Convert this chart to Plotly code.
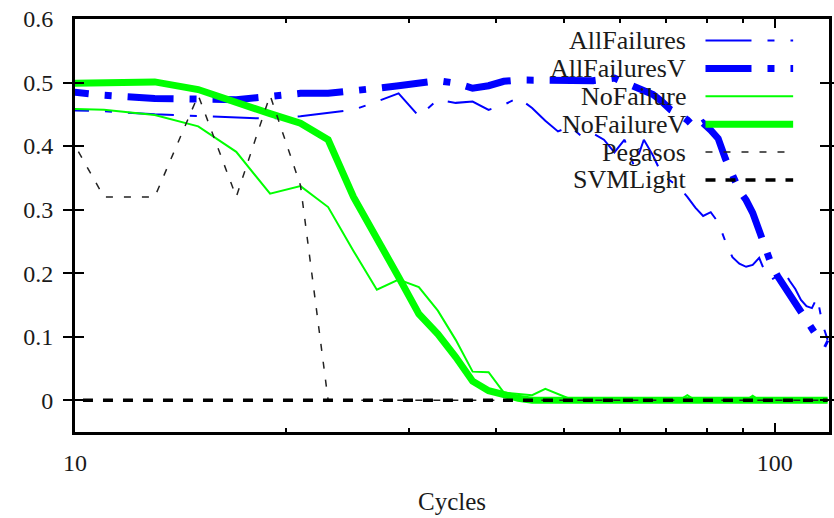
import plotly.graph_objects as go

# Sampled cycle counts (odd values) and error rates per method
cycles = [9, 11, 13, 15, 17, 19, 21, 23, 25, 27, 29, 31, 33, 35, 37, 39, 41, 43,
          45, 47, 49, 51, 53, 55, 57, 59, 61, 63, 65, 67, 69, 71, 73, 75, 77, 79,
          81, 83, 85, 87, 89, 91, 93, 95, 97, 99, 101, 103, 105, 107, 109, 111,
          113, 115, 117, 119]

all_failures = [0.457, 0.455, 0.45, 0.447, 0.445, 0.443, 0.447, 0.452, 0.457, 0.47,
                0.483, 0.447, 0.473, 0.468, 0.47, 0.457, 0.465, 0.476, 0.46, 0.44,
                0.423, 0.431, 0.415, 0.42, 0.41, 0.39, 0.41, 0.367, 0.41, 0.385,
                0.355, 0.345, 0.335, 0.32, 0.303, 0.29, 0.296, 0.28, 0.25, 0.225,
                0.215, 0.21, 0.213, 0.224, 0.2, 0.19, 0.196, 0.204, 0.188, 0.175,
                0.158, 0.148, 0.145, 0.162, 0.12, 0.095]

all_failures_v = [0.49, 0.48, 0.475, 0.473, 0.473, 0.478, 0.483, 0.483, 0.486, 0.491,
                  0.495, 0.498, 0.503, 0.499, 0.491, 0.495, 0.502, 0.504, 0.504, 0.504,
                  0.504, 0.503, 0.502, 0.503, 0.505, 0.507, 0.5, 0.494, 0.487, 0.481,
                  0.47, 0.457, 0.45, 0.441, 0.428, 0.436, 0.425, 0.412, 0.38, 0.355,
                  0.33, 0.315, 0.295, 0.267, 0.24, 0.212, 0.195, 0.18, 0.167, 0.152,
                  0.138, 0.122, 0.11, 0.1, 0.092, 0.088]

no_failure = [0.46, 0.457, 0.449, 0.431, 0.391, 0.325, 0.337, 0.304, 0.235, 0.174,
              0.19, 0.178, 0.141, 0.095, 0.045, 0.044, 0.012, 0.01, 0.008, 0.018,
              0.01, 0.002, 0, 0, 0, 0, 0, 0, 0, 0,
              0, 0, 0, 0.008, 0, 0, 0, 0, 0, 0,
              0, 0, 0.007, 0, 0, 0, 0, 0, 0, 0,
              0, 0, 0, 0, 0, 0]

no_failure_v = [0.498, 0.5, 0.501, 0.489, 0.468, 0.451, 0.436, 0.41, 0.32, 0.257,
                0.194, 0.136, 0.104, 0.068, 0.03, 0.015, 0.008, 0.003, 0, 0,
                0, 0, 0, 0, 0, 0, 0, 0, 0, 0,
                0, 0, 0, 0, 0, 0, 0, 0, 0, 0,
                0, 0, 0, 0, 0, 0, 0, 0, 0, 0,
                0, 0, 0, 0, 0, 0]

pegasos = [0.49, 0.32, 0.32, 0.48, 0.32, 0.48, 0.338, 0] + [0] * 48

svmlight = [0] * 56

y_ticks = [0, 0.1, 0.2, 0.3, 0.4, 0.5, 0.6]
y_tick_text = ["0", "0.1", "0.2", "0.3", "0.4", "0.5", "0.6"]
x_ticks = [10, 100]
x_minor = [20, 30, 40, 50, 60, 70, 80, 90]

BLUE = "#0000ff"
GREEN = "#00ff00"
BLACK = "#000000"
DASHDOT = "46px,16px,7px,16px"

# name, values, colour, width, dash, x-axis
series = [
    ("AllFailures", all_failures, BLUE, 2, DASHDOT, "x"),
    ("AllFailuresV", all_failures_v, BLUE, 7, DASHDOT, "x"),
    ("NoFailure", no_failure, GREEN, 2, "solid", "x"),
    ("NoFailureV", no_failure_v, GREEN, 7, "solid", "x"),
    ("Pegasos", pegasos, "#222222", 1.5, "7px,11px", "x2"),
    ("SVMLight", svmlight, BLACK, 3.5, "10px,10px", "x2"),
]

FONT = "Liberation Serif"
TEXT = "#1a1a1a"
X_RANGE = [1, 2.0775]

fig = go.Figure()
for name, vals, color, width, dash, xa in series:
    fig.add_trace(go.Scatter(
        x=cycles, y=vals, name=name, mode="lines", xaxis=xa,
        line=dict(color=color, width=width, dash=dash),
        showlegend=False,
    ))

# Legend drawn inside the plot: right-aligned labels, line samples to the right
L, R, T, B = 75, 832, 19, 432
def px(x):
    return (x - L) / (R - L)
def py(y):
    return (B - y) / (B - T)

row0, step = 40.5, 27.9
shapes = []
annotations = []
for i, (name, vals, color, width, dash, xa) in enumerate(series):
    yc = row0 + i * step
    annotations.append(dict(
        x=px(689), y=py(yc), xref="paper", yref="paper", text=name,
        showarrow=False, xanchor="right", yanchor="middle", borderpad=0,
        font=dict(family=FONT, size=26, color=TEXT),
    ))
    shapes.append(dict(
        type="line", xref="paper", yref="paper",
        x0=px(708), x1=px(796), y0=py(yc), y1=py(yc),
        line=dict(color=color, width=width, dash=dash),
    ))

fig.update_layout(
    width=834, height=518,
    margin=dict(l=L, r=834 - R, t=T, b=518 - B),
    paper_bgcolor="white", plot_bgcolor="white",
    font=dict(family=FONT, size=24, color=TEXT),
    shapes=shapes, annotations=annotations,
    xaxis=dict(
        type="log", range=X_RANGE,
        tickvals=x_ticks, ticktext=[str(v) for v in x_ticks],
        ticks="inside", ticklen=9, tickwidth=2, tickcolor=BLACK,
        showline=True, linewidth=3, linecolor=BLACK, mirror="allticks",
        showgrid=False, zeroline=False,
        ticklabelstandoff=7,
        title=dict(text="Cycles", font=dict(family=FONT, size=25, color=TEXT),
                   standoff=18),
    ),
    # companion log axis carrying the short intermediate ticks (20..90)
    xaxis2=dict(
        type="log", range=X_RANGE, overlaying="x", anchor="y", side="bottom",
        tickvals=x_minor, showticklabels=False,
        ticks="inside", ticklen=4, tickwidth=2, tickcolor=BLACK,
        showline=True, linewidth=3, linecolor=BLACK, mirror="allticks",
        showgrid=False, zeroline=False,
    ),
    yaxis=dict(
        range=[-0.05, 0.6],
        tickvals=y_ticks, ticktext=y_tick_text,
        ticks="inside", ticklen=9, tickwidth=2, tickcolor=BLACK,
        showline=True, linewidth=3, linecolor=BLACK, mirror="allticks",
        showgrid=False, zeroline=False,
        ticklabelstandoff=14,
    ),
)

fig.write_html("out.html")
